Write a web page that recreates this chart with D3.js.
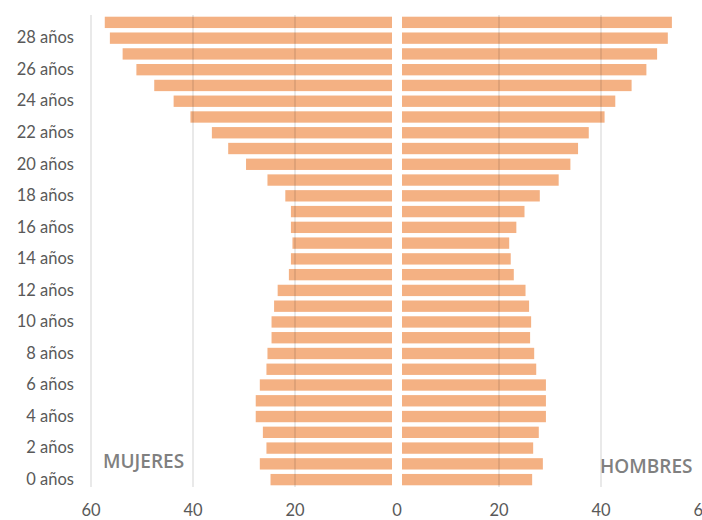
<!DOCTYPE html>
<html>
<head>
<meta charset="utf-8">
<script src="https://cdn.jsdelivr.net/npm/d3@7"></script>
<style>
  body { margin: 0; background: #fff; }
  svg text { font-family: Lato, "Open Sans", sans-serif; fill: #595959; }
</style>
</head>
<body>
<svg width="702" height="520"></svg>
<script>
// ages 0..29
var ages = d3.range(0, 30);
var mujeres = [24.8, 26.9, 25.6, 26.3, 27.7, 27.7, 26.9, 25.6, 25.4, 24.6,
               24.6, 24.1, 23.4, 21.2, 20.8, 20.5, 20.8, 20.8, 21.9, 25.4,
               29.6, 33.1, 36.3, 40.5, 43.8, 47.6, 51.1, 53.8, 56.3, 57.3];
var hombres = [26.5, 28.6, 26.7, 27.8, 29.2, 29.2, 29.2, 27.3, 26.9, 26.1,
               26.3, 25.9, 25.2, 22.9, 22.3, 22.0, 23.4, 25.0, 28.0, 31.7,
               34.0, 35.5, 37.6, 40.7, 42.8, 46.0, 48.9, 51.0, 53.1, 53.9];
var xTicks = [60, 40, 20, 0, 20, 40, 60];

var svg = d3.select("svg");
var center = 397, gap = 5;

var xl = d3.scaleLinear().domain([0, 60]).range([center, 91]);
var xr = d3.scaleLinear().domain([0, 60]).range([center, 703]);
var y = d3.scaleBand()
  .domain(ages)
  .range([487.5, 14.5])
  .paddingInner(0.28)
  .paddingOuter(0.14);

var barColor = "#f4b183";

// women (left)
svg.append("g").selectAll("rect")
  .data(mujeres)
  .enter().append("rect")
  .attr("x", function(d) { return xl(d); })
  .attr("y", function(d, i) { return y(ages[i]); })
  .attr("width", function(d) { return center - gap - xl(d); })
  .attr("height", y.bandwidth())
  .attr("fill", barColor);

// men (right)
svg.append("g").selectAll("rect")
  .data(hombres)
  .enter().append("rect")
  .attr("x", center + gap)
  .attr("y", function(d, i) { return y(ages[i]); })
  .attr("width", function(d) { return xr(d) - center - gap; })
  .attr("height", y.bandwidth())
  .attr("fill", barColor);

// gridlines on top, semi transparent
var grid = svg.append("g");
[20, 40, 60].forEach(function(v) {
  grid.append("line")
    .attr("x1", xl(v)).attr("x2", xl(v))
    .attr("y1", 15).attr("y2", 487)
    .attr("stroke", "rgba(0,0,0,0.15)")
    .attr("stroke-width", 1.2);
  grid.append("line")
    .attr("x1", xr(v)).attr("x2", xr(v))
    .attr("y1", 15).attr("y2", 487)
    .attr("stroke", "rgba(0,0,0,0.15)")
    .attr("stroke-width", 1.2);
});

// y axis labels (every two years)
var yAxis = d3.axisLeft(y)
  .tickValues(ages.filter(function(a) { return a % 2 === 0; }))
  .tickSize(0)
  .tickPadding(0)
  .tickFormat(function(a) { return a + " años"; });

svg.append("g")
  .attr("transform", "translate(74,0)")
  .call(yAxis)
  .call(function(g) { g.select(".domain").remove(); })
  .selectAll("text")
  .attr("font-size", 16.5)
  .attr("fill", "#595959");

// x axis labels
svg.append("g").selectAll("text")
  .data(xTicks)
  .enter().append("text")
  .attr("x", function(d, i) { return i < 3 ? xl(d) : xr(d); })
  .attr("y", 516)
  .attr("text-anchor", "middle")
  .attr("font-size", 16.5)
  .text(function(d) { return d; });

// side labels
svg.append("text")
  .attr("x", 103).attr("y", 468)
  .attr("font-size", 19)
  .attr("font-weight", 600)
  .style("font-family", "'Open Sans', sans-serif")
  .style("fill", "#808080")
  .text("MUJERES");

svg.append("text")
  .attr("x", 600).attr("y", 473)
  .attr("font-size", 19)
  .attr("font-weight", 600)
  .style("font-family", "'Open Sans', sans-serif")
  .style("fill", "#808080")
  .text("HOMBRES");
</script>
</body>
</html>
